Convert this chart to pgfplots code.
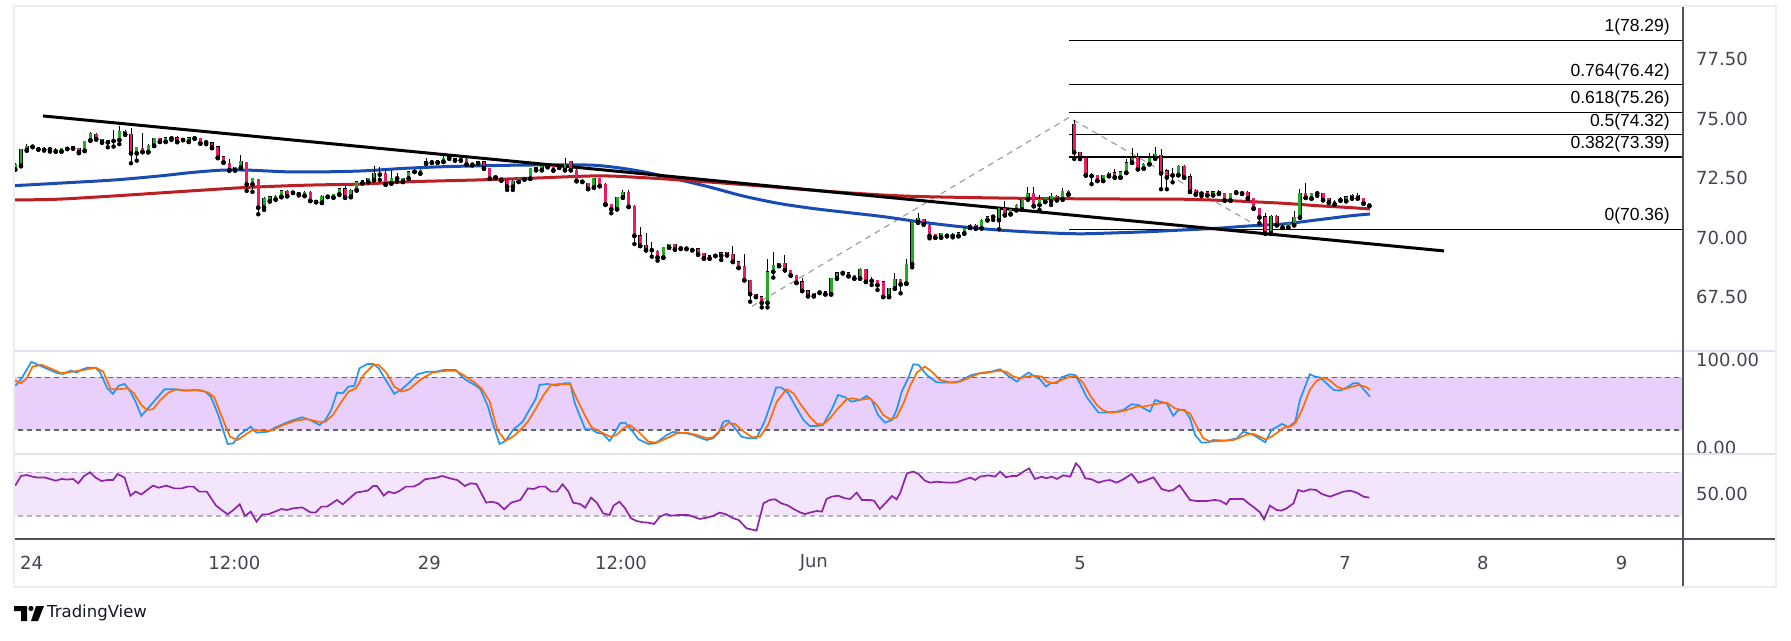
\documentclass[border=0pt]{standalone}
\usepackage{pgfplots}
\pgfplotsset{compat=1.18}
\usepackage{pgfplotstable}
\usepackage{fontspec}
\setmainfont{DejaVu Sans}
\newfontfamily\libsans{Liberation Sans}
\definecolor{cgreen}{RGB}{34,170,34}
\definecolor{cred}{RGB}{236,28,100}
\definecolor{mablue}{RGB}{24,76,178}
\definecolor{mared}{RGB}{189,30,36}
\definecolor{stk}{RGB}{33,150,243}
\definecolor{std}{RGB}{255,109,0}
\definecolor{rsic}{RGB}{142,36,170}
\definecolor{stband}{RGB}{233,207,252}
\definecolor{rsiband}{RGB}{243,230,252}
\definecolor{framec}{RGB}{233,236,242}
\definecolor{sepc}{RGB}{224,227,235}
\definecolor{axc}{RGB}{80,83,94}
\definecolor{txt}{RGB}{67,70,81}
\definecolor{stdash}{RGB}{100,100,110}
\definecolor{rsidash}{RGB}{178,181,190}
\definecolor{fibdash}{RGB}{160,160,160}

\pgfplotstableread{
i o h l c
-1 72.88 73.12 72.86 73.10
0 73.03 73.74 73.00 73.72
1 73.69 73.94 73.65 73.86
2 73.83 73.87 73.80 73.84
3 73.80 73.82 73.70 73.72
4 73.76 73.80 73.66 73.70
5 73.72 73.76 73.62 73.73
6 73.73 73.75 73.62 73.63
7 73.63 73.77 73.62 73.75
8 73.74 73.79 73.72 73.76
9 73.76 73.84 73.74 73.82
10 73.76 73.79 73.55 73.60
11 73.66 74.08 73.64 74.07
12 74.10 74.46 74.07 74.39
13 74.35 74.38 74.12 74.15
14 74.14 74.15 73.99 74.01
15 74.01 74.12 73.80 74.11
16 74.07 74.53 73.83 74.11
17 74.11 74.70 73.93 74.49
18 74.49 74.53 74.32 74.35
19 74.36 74.63 73.13 73.55
20 73.55 73.83 73.24 73.80
21 73.76 74.39 73.59 73.61
22 73.61 73.92 73.58 73.89
23 73.87 74.20 73.85 74.18
24 74.18 74.21 74.02 74.04
25 74.04 74.24 74.02 74.21
26 74.18 74.28 74.11 74.19
27 74.21 74.26 74.01 74.04
28 74.11 74.18 74.10 74.12
29 74.04 74.23 74.02 74.21
30 74.18 74.22 74.15 74.19
31 74.18 74.20 73.95 73.97
32 74.01 74.11 73.93 74.01
33 73.99 74.02 73.76 73.79
34 73.82 73.85 73.34 73.37
35 73.41 73.43 73.15 73.17
36 73.13 73.30 72.82 72.84
37 72.84 72.98 72.82 72.96
38 72.95 73.48 72.92 73.23
39 73.17 73.20 71.97 72.25
40 72.25 72.53 71.93 72.50
41 72.46 72.48 70.99 71.27
42 71.27 71.70 71.17 71.66
43 71.55 71.76 71.52 71.73
44 71.62 71.78 71.60 71.76
45 71.73 72.00 71.70 71.98
46 71.97 71.99 71.74 71.76
47 71.90 71.96 71.88 71.92
48 71.84 71.87 71.78 71.85
49 71.77 71.95 71.75 71.93
50 71.93 71.95 71.54 71.56
51 71.51 71.55 71.49 71.52
52 71.48 71.78 71.46 71.76
53 71.73 71.76 71.71 71.74
54 71.70 71.86 71.68 71.83
55 71.83 72.10 71.80 72.07
56 72.07 72.18 71.68 71.70
57 71.73 72.04 71.70 72.01
58 72.01 72.38 71.98 72.35
59 72.30 72.43 72.28 72.40
60 72.35 72.51 72.33 72.49
61 72.43 73.02 72.41 72.71
62 72.66 72.99 72.43 72.68
63 72.71 72.88 72.23 72.25
64 72.29 72.85 72.27 72.50
65 72.50 72.74 72.36 72.51
66 72.36 72.53 72.34 72.50
67 72.50 72.80 72.48 72.77
68 72.78 72.82 72.76 72.79
69 72.71 72.87 72.69 72.85
70 73.23 73.34 73.10 73.13
71 73.17 73.21 73.14 73.18
72 73.17 73.27 73.15 73.24
73 73.20 73.48 73.18 73.34
74 73.37 73.45 73.31 73.38
75 73.34 73.36 73.24 73.26
76 73.26 73.30 73.24 73.27
77 73.31 73.33 73.06 73.09
78 73.06 73.19 73.04 73.17
79 73.13 73.22 73.11 73.20
80 73.19 73.22 72.89 72.92
81 72.92 72.94 72.47 72.49
82 72.54 72.58 72.52 72.55
83 72.54 72.56 72.40 72.42
84 72.43 72.45 72.01 72.15
85 72.15 72.41 72.01 72.39
86 72.36 72.51 72.34 72.49
87 72.46 72.56 72.44 72.54
88 72.49 72.95 72.47 72.93
89 72.95 72.97 72.83 72.85
90 72.85 73.04 72.83 73.02
91 72.98 73.02 72.96 72.99
92 73.00 73.02 72.82 72.84
93 72.95 72.99 72.93 72.96
94 72.85 73.34 72.83 73.10
95 73.22 73.24 72.83 72.85
96 72.85 72.87 72.37 72.39
97 72.36 72.39 72.34 72.37
98 72.29 72.31 72.04 72.06
99 72.12 72.52 72.10 72.50
100 72.50 72.52 72.16 72.18
101 72.26 72.29 71.38 71.41
102 71.41 71.43 71.03 71.21
103 71.21 71.72 71.19 71.70
104 71.70 72.01 71.68 71.93
105 71.93 72.01 71.29 71.31
106 71.34 71.36 69.74 70.09
107 70.09 70.44 69.65 69.67
108 69.70 70.19 69.47 69.49
109 69.49 69.84 69.21 69.50
110 69.45 69.47 69.04 69.18
111 69.18 69.62 69.16 69.60
112 69.60 69.76 69.58 69.74
113 69.74 69.76 69.50 69.52
114 69.56 69.60 69.53 69.57
115 69.55 69.59 69.52 69.56
116 69.55 69.57 69.47 69.49
117 69.55 69.57 69.29 69.31
118 69.35 69.37 69.12 69.14
119 69.25 69.27 69.12 69.14
120 69.25 69.28 69.23 69.26
121 69.25 69.40 69.07 69.38
122 69.39 69.41 69.26 69.28
123 69.31 69.66 68.98 69.00
124 69.00 69.02 68.73 68.75
125 68.82 69.31 68.21 68.23
126 68.23 68.25 67.32 67.64
127 67.64 67.66 67.51 67.53
128 67.53 67.55 67.08 67.28
129 67.28 69.11 67.08 68.58
130 68.58 69.42 68.33 68.86
131 68.93 68.95 68.81 68.83
132 68.93 69.28 68.63 68.65
133 68.65 68.67 68.41 68.43
134 68.44 68.46 68.10 68.12
135 68.16 68.30 67.76 67.78
136 67.78 67.80 67.54 67.56
137 67.56 67.69 67.54 67.67
138 67.71 67.75 67.68 67.72
139 67.74 67.76 67.62 67.64
140 67.64 68.32 67.62 68.30
141 68.30 68.56 68.28 68.54
142 68.53 68.60 68.50 68.54
143 68.54 68.56 68.38 68.40
144 68.44 68.46 68.28 68.30
145 68.30 68.72 68.28 68.68
146 68.68 68.70 68.14 68.16
147 68.20 68.37 68.02 68.21
148 68.23 68.25 67.81 68.02
149 68.16 68.18 67.51 67.53
150 67.53 67.90 67.51 67.88
151 67.88 68.54 67.86 68.26
152 68.26 68.28 67.67 68.05
153 68.09 69.10 68.07 68.90
154 68.90 70.68 68.76 70.65
155 70.65 71.03 70.63 70.82
156 70.78 70.80 70.55 70.57
157 70.54 70.56 69.98 70.08
158 70.16 70.18 70.00 70.02
159 70.02 70.21 70.00 70.19
160 70.09 70.13 70.06 70.10
161 70.09 70.19 70.02 70.10
162 70.08 70.24 70.06 70.22
163 70.19 70.45 70.17 70.43
164 70.43 70.56 70.41 70.54
165 70.54 70.56 70.38 70.40
166 70.41 70.77 70.39 70.75
167 70.75 70.91 70.73 70.89
168 70.89 70.96 70.75 70.90
169 70.75 71.26 70.36 71.24
170 71.24 71.55 70.94 70.96
171 71.00 71.23 70.98 71.21
172 71.17 71.40 71.15 71.38
173 71.20 71.65 71.18 71.63
174 71.62 72.12 71.60 71.87
175 71.87 72.15 71.32 71.34
176 71.38 71.80 71.17 71.63
177 71.52 71.68 71.50 71.66
178 71.55 71.87 71.38 71.76
179 71.76 71.78 71.57 71.59
180 71.62 72.08 71.60 71.97
181 71.97 71.99 71.81 71.83
182 74.77 74.95 73.31 73.59
183 73.59 73.62 73.30 73.34
184 73.34 73.36 72.61 72.63
185 72.62 72.74 72.25 72.60
186 72.63 72.65 72.38 72.40
187 72.40 72.65 72.38 72.63
188 72.60 72.78 72.58 72.71
189 72.74 72.88 72.52 72.54
190 72.54 72.79 72.52 72.77
191 72.74 73.30 72.72 73.16
192 73.16 73.76 73.14 73.37
193 73.38 73.55 72.87 72.89
194 72.92 73.12 72.90 73.10
195 73.10 73.55 73.08 73.37
196 73.34 73.83 73.32 73.51
197 73.48 73.72 72.04 72.71
198 72.82 72.88 72.04 72.54
199 72.64 72.92 72.33 72.63
200 72.64 73.04 72.62 73.02
201 73.02 73.04 72.52 72.54
202 72.57 72.68 71.92 71.94
203 72.01 72.03 71.81 71.83
204 71.87 71.97 71.76 71.86
205 71.94 71.96 71.78 71.80
206 71.80 71.96 71.78 71.94
207 71.97 71.99 71.84 71.86
208 71.87 71.89 71.56 71.58
209 71.58 71.89 71.56 71.87
210 71.91 71.96 71.88 71.92
211 71.87 71.93 71.84 71.88
212 71.93 71.95 71.64 71.66
213 71.66 71.68 71.22 71.24
214 71.24 71.26 70.61 70.86
215 70.89 71.03 70.17 70.19
216 70.19 70.94 70.17 70.92
217 70.92 70.94 70.52 70.54
218 70.54 70.56 70.41 70.43
219 70.44 70.63 70.42 70.61
220 70.54 71.14 70.52 70.86
221 70.86 72.04 70.84 71.87
222 71.87 72.29 71.67 71.69
223 71.66 71.89 71.64 71.87
224 71.87 71.94 71.76 71.88
225 71.87 71.89 71.57 71.59
226 71.66 71.68 71.47 71.49
227 71.55 71.57 71.39 71.41
228 71.58 71.70 71.56 71.59
229 71.55 71.75 71.53 71.73
230 71.66 71.82 71.64 71.80
231 71.80 71.87 71.64 71.66
232 71.66 71.68 71.43 71.45
233 71.45 71.47 71.33 71.35
}\candles

\pgfplotsset{
  panel/.style={scale only axis, width=1668.5pt, xmin=-1.123, xmax=287.2,
    axis line style={draw=none}, major tick length=0pt, xtick=\empty,
    yticklabel pos=right,
    yticklabel style={anchor=west, inner sep=0pt, xshift=13pt,
      font=\fontsize{18}{18}\selectfont, text=txt}},
  candle/.style={only marks, mark=none, forget plot}
}

\begin{document}
\begin{tikzpicture}[x=1pt,y=1pt]
\useasboundingbox (0,0) rectangle (1791,640);
\fill[white] (0,0) rectangle (1791,640);

% ---------------- price panel ----------------
\begin{axis}[panel, at={(14.5pt,289pt)}, anchor=south west, height=345pt,
  ymin=65.25, ymax=79.73,
  ytick={67.5,70,72.5,75,77.5},
  yticklabels={67.50,70.00,72.50,75.00,77.50}]
% fib levels
\addplot[black, line width=1.2pt, forget plot] coordinates {(181.1,78.29) (288,78.29)};
\addplot[black, line width=1.2pt, forget plot] coordinates {(181.1,76.42) (288,76.42)};
\addplot[black, line width=1.2pt, forget plot] coordinates {(181.1,75.26) (288,75.26)};
\addplot[black, line width=1.2pt, forget plot] coordinates {(181.1,74.32) (288,74.32)};
\addplot[black, line width=1.2pt, forget plot] coordinates {(181.1,73.39) (288,73.39)};
\addplot[black, line width=1.2pt, forget plot] coordinates {(181.1,70.36) (288,70.36)};
% fib anchor dashed
\addplot[fibdash, line width=1.2pt, dash pattern=on 6pt off 5pt, forget plot]
  coordinates {(126.3,67.12) (181.1,75.05) (214.6,70.36)};
% moving averages
\addplot[mablue, line width=3pt, smooth, forget plot] coordinates {
(-1.1,72.19) (6.3,72.29) (16.2,72.43) (24.1,72.60) (29.4,72.74) (34.7,72.84) (39.4,72.84)
(46.0,72.77) (52.6,72.77) (59.2,72.81) (65.8,72.91) (72.4,72.98) (79.0,73.02) (85.7,73.05)
(92.3,73.06) (99.5,73.04) (106.5,72.82) (112.6,72.50) (118.7,72.15) (124.7,71.76)
(130.8,71.45) (136.9,71.23) (142.9,71.06) (149.0,70.89) (155.0,70.68) (161.1,70.50)
(167.2,70.36) (173.2,70.26) (179.3,70.19) (183.6,70.17) (189.3,70.21) (195.1,70.26)
(200.8,70.33) (206.6,70.40) (212.3,70.50) (218.1,70.58) (223.9,70.75) (229.6,70.92) (233.1,71.00)};
\addplot[mared, line width=3pt, smooth, forget plot] coordinates {
(-1.1,71.59) (6.3,71.62) (16.2,71.76) (29.4,71.97) (39.4,72.12) (49.4,72.21) (59.2,72.26)
(66.5,72.35) (79.0,72.43) (89.0,72.51) (99.5,72.60) (106.5,72.54) (115.6,72.40)
(127.7,72.18) (139.9,71.94) (152.0,71.76) (164.1,71.69) (176.3,71.65) (189.3,71.63)
(200.8,71.62) (209.5,71.55) (218.1,71.45) (223.9,71.35) (229.6,71.27) (233.1,71.21)};
% trend line
\addplot[black, line width=3pt, forget plot] coordinates {(3.8,75.115) (245.9,69.45)};
% candles: wicks
\addplot[candle, error bars/.cd, y dir=plus, y explicit, error mark=none,
  error bar style={draw=black, line width=0.9pt}]
  table[x=i, y=l, y error plus expr={\thisrow{h}-\thisrow{l}}] {\candles};
% candle body outlines
\addplot[candle, error bars/.cd, y dir=plus, y explicit, error mark=none,
  error bar style={draw=black, line width=3.5pt}]
  table[x=i, y expr={min(\thisrow{o},\thisrow{c})-0.014},
        y error plus expr={abs(\thisrow{c}-\thisrow{o})+0.028}] {\candles};
% green bodies
\addplot[candle, restrict expr to domain={\thisrow{c}-\thisrow{o}}{0:100},
  error bars/.cd, y dir=plus, y explicit, error mark=none,
  error bar style={draw=cgreen, line width=2.9pt}]
  table[x=i, y=o, y error plus expr={\thisrow{c}-\thisrow{o}}] {\candles};
% red bodies
\addplot[candle, restrict expr to domain={\thisrow{o}-\thisrow{c}}{0.0001:100},
  error bars/.cd, y dir=plus, y explicit, error mark=none,
  error bar style={draw=cred, line width=2.9pt}]
  table[x=i, y=c, y error plus expr={\thisrow{o}-\thisrow{c}}] {\candles};
% fib labels
\begin{scope}[every node/.style={anchor=base east, inner sep=0pt, yshift=8.7pt,
   font=\libsans\fontsize{17.5}{17.5}\selectfont, text=black}]
\node at (axis cs:284.95,78.29) {1(78.29)};
\node at (axis cs:284.95,76.42) {0.764(76.42)};
\node at (axis cs:284.95,75.26) {0.618(75.26)};
\node at (axis cs:284.95,74.32) {0.5(74.32)};
\node at (axis cs:284.95,73.39) {0.382(73.39)};
\node at (axis cs:284.95,70.36) {0(70.36)};
\end{scope}
\end{axis}

% ---------------- stochastic panel ----------------
\begin{axis}[panel, at={(14.5pt,186pt)}, anchor=south west, height=103pt,
  ymin=-7.3, ymax=109.9, ytick={0,100}, yticklabels={0.00,100.00}]
\addplot[fill=stband, draw=none, forget plot] coordinates {(-2,20) (289,20) (289,80) (-2,80)} -- cycle;
\addplot[stdash, line width=1.2pt, dash pattern=on 5pt off 4pt, forget plot] coordinates {(-2,80) (289,80)};
\addplot[stdash, line width=1.2pt, dash pattern=on 5pt off 4pt, forget plot] coordinates {(-2,20) (289,20)};
\addplot[stk, line width=1.7pt, forget plot] coordinates {
(-1.0,70.2)(0.0,77.7)(1.8,97.5)(3.0,94.1)(4.3,90.3)(6.3,84.6)(7.3,83.8)(8.6,87.6)(9.6,85.3)(10.6,89.1)(11.6,91.0)(12.9,91.0)(13.7,85.3)(14.9,67.5)(15.9,61.1)(16.9,70.5)(17.9,72.4)(18.9,63.7)(19.8,52.3)(20.8,36.0)(21.8,43.6)(22.8,51.2)(23.8,58.8)(24.8,66.4)(26.5,66.4)(28.1,64.8)(30.1,65.6)(31.8,63.7)(32.8,58.0)(34.1,37.1)(35.7,4.1)(36.7,4.8)(37.7,14.3)(39.7,23.8)(40.7,17.0)(42.7,18.1)(44.0,23.1)(46.6,30.3)(48.6,34.5)(50.3,30.3)(51.6,25.7)(52.6,31.4)(53.6,42.8)(54.6,62.6)(55.6,61.8)(56.6,69.4)(57.6,70.2)(58.5,90.3)(59.9,95.2)(60.9,95.2)(61.8,90.3)(63.2,75.1)(64.5,61.1)(65.8,66.4)(67.1,74.0)(68.5,83.4)(70.1,86.1)(71.8,86.5)(73.1,88.4)(75.1,88.4)(76.7,77.7)(78.4,71.3)(79.4,66.4)(80.7,46.6)(81.7,23.8)(82.7,4.1)(83.7,7.5)(85.0,20.0)(86.7,29.5)(88.0,44.7)(89.0,56.1)(89.6,71.3)(91.0,72.4)(92.6,70.6)(93.9,73.2)(94.9,73.2)
(95.7,50.4)(97.5,20.8)(98.6,20.8)(99.5,17.0)(100.6,15.5)(101.7,7.5)(102.4,14.3)(103.5,27.6)(104.4,28.4)(105.5,20.0)(106.7,9.4)(108.4,4.1)(109.6,4.8)(110.4,8.6)(111.6,14.3)(112.7,17.8)(113.9,17.0)(115.0,16.2)(116.2,14.3)(117.3,11.3)(118.5,8.6)(119.6,10.6)(120.5,16.2)(121.4,29.5)(122.2,30.7)(123.1,24.6)(124.5,12.4)(125.7,10.6)(127.1,10.6)(128.6,31.4)(130.5,68.3)(131.4,68.3)(132.6,61.8)(133.8,47.4)(135.2,31.4)(136.3,24.6)(137.5,24.6)(138.6,25.7)(140.1,43.6)(141.2,59.9)(142.4,57.2)(143.5,52.3)(145.0,54.2)(146.1,58.8)(147.0,54.2)(148.1,37.1)(149.3,28.4)(150.5,31.4)(151.3,42.8)(152.2,63.7)(153.3,78.9)(154.2,94.8)(155.1,94.1)(156.5,82.7)(158.2,74.3)(160.0,73.9)(161.7,73.9)(163.1,78.9)(164.3,82.7)(165.7,84.6)
(166.3,85.3)(167.7,86.5)(169.2,89.1)(170.6,81.5)(172.1,75.1)(172.9,80.0)(174.1,85.3)(175.2,80.8)(176.1,77.7)(177.1,69.4)(178.1,73.9)(179.0,73.2)(179.8,80.0)(181.3,83.4)(182.1,82.7)(183.0,73.2)(184.1,58.0)(185.3,47.4)(186.2,39.8)(187.6,39.8)(189.3,40.9)(190.5,42.8)(191.9,49.3)(193.1,48.5)(194.0,44.7)(195.1,40.9)(196.0,54.2)(196.8,52.3)(198.0,50.4)(199.1,36.0)(200.0,42.8)(201.1,42.8)(202.0,33.3)(202.9,14.3)(204.0,5.6)(205.2,6.0)(206.0,8.6)(208.3,7.9)(210.1,10.6)(211.2,18.1)(213.0,14.3)(214.1,9.8)(215.0,6.0)(216.1,20.0)(217.9,26.9)(219.0,23.1)(220.2,29.5)(221.0,54.2)(221.9,69.4)(222.7,83.4)(223.6,80.8)(224.5,79.7)(225.6,73.2)(226.8,65.6)(227.9,64.8)(229.1,68.3)(230.2,73.2)(231.1,73.2)(232.0,66.4)(233.1,58.0)};
\addplot[std, line width=1.7pt, forget plot] coordinates {
(-1.0,76.2)(0.0,73.2)(1.0,78.9)(2.0,92.2)(3.6,94.1)(5.0,90.3)(7.0,84.6)(9.0,86.5)(10.9,88.4)(12.9,91.0)(14.2,86.5)(15.5,66.4)(16.9,66.4)(18.5,67.5)(19.5,61.8)(20.8,48.5)(21.8,42.8)(22.8,43.6)(24.1,54.2)(25.5,62.6)(26.8,66.4)(28.8,64.8)(30.8,65.6)(32.4,62.6)(33.4,57.2)(34.7,35.2)(36.1,12.4)(37.4,8.6)(38.7,14.3)(40.0,20.0)(42.0,19.3)(43.3,19.3)(45.3,25.7)(47.3,30.3)(49.3,32.6)(51.3,29.5)(52.6,29.5)(53.9,37.1)(55.2,50.4)(56.6,63.7)(57.9,67.5)(59.2,82.7)(60.9,94.1)(61.8,94.1)(63.2,84.6)(64.5,69.4)(65.8,63.7)(67.1,66.4)(69.1,77.7)(71.1,85.3)(73.1,87.2)(75.1,87.6)(76.4,82.7)(78.4,74.0)(79.7,66.4)(81.0,52.3)(82.3,20.0)(83.7,7.9)(85.0,12.4)(86.3,20.0)(87.6,29.5)(89.0,44.7)(90.3,59.9)(91.6,71.3)(93.0,72.4)(94.9,72.4)
(96.0,56.1)(97.5,36.0)(98.6,23.1)(100.1,18.1)(101.8,12.4)(102.9,14.3)(104.1,21.9)(105.2,25.7)(106.7,18.1)(108.4,6.7)(109.8,5.6)(111.6,10.6)(113.3,16.2)(115.0,17.0)(116.8,14.3)(118.5,10.6)(119.6,11.7)(120.8,20.0)(122.2,27.6)(123.4,26.9)(124.5,20.0)(126.3,11.7)(127.7,12.4)(129.1,25.7)(130.6,52.3)(132.3,66.4)(133.5,61.8)(134.6,50.4)(136.3,35.2)(137.5,26.9)(138.6,26.5)(139.8,33.3)(141.2,44.7)(142.7,55.0)(143.8,56.1)(145.0,54.2)(146.7,56.1)(147.9,48.5)(149.0,37.1)(150.2,32.2)(151.3,34.5)(152.5,50.4)(153.6,69.4)(154.8,85.3)(156.2,92.2)(157.4,86.5)(158.8,77.0)(160.5,74.3)(162.3,75.1)(164.0,80.0)(165.7,84.6)
(166.3,84.6)(167.7,86.1)(169.2,87.6)(170.3,86.1)(171.5,80.8)(172.6,78.9)(173.8,80.8)(175.0,81.9)(176.4,80.8)(177.2,75.1)(178.4,73.2)(179.5,76.2)(181.3,80.8)(182.4,81.5)(183.6,73.2)(184.7,59.9)(185.9,48.5)(187.0,42.1)(188.2,39.8)(189.9,40.9)(191.1,42.8)(192.8,46.6)(194.0,46.6)(195.4,48.5)(196.8,50.4)(198.0,51.2)(199.4,44.7)(200.9,42.1)(202.0,39.0)(203.2,23.8)(204.3,10.6)(205.5,6.8)(207.2,7.5)(209.5,8.6)(210.6,11.3)(211.8,15.1)(213.0,15.5)(214.1,12.4)(215.0,9.4)(216.1,12.4)(217.3,18.1)(218.4,23.1)(219.6,24.6)(220.4,29.5)(221.6,46.6)(222.7,65.6)(223.9,76.2)(225.1,79.7)(226.2,76.2)(227.4,69.4)(228.5,66.4)(229.7,68.6)(231.1,71.3)(232.3,69.4)(233.1,65.6)};
\end{axis}

% ---------------- RSI panel ----------------
\begin{axis}[panel, at={(14.5pt,101pt)}, anchor=south west, height=85pt,
  ymin=8.95, ymax=86.75, ytick={50}, yticklabels={50.00},
  xtick={1.83,36.86,70.55,103.68,137.0,183.0,228.8,252.6,276.6},
  xticklabels={24,12:00,29,12:00,Jun,5,7,8,9},
  xticklabel style={anchor=center, inner sep=0pt, yshift=-24pt,
     font=\fontsize{18}{18}\selectfont, text=txt}]
\addplot[fill=rsiband, draw=none, forget plot] coordinates {(-2,30) (289,30) (289,70) (-2,70)} -- cycle;
\addplot[rsidash, line width=1.2pt, dash pattern=on 5pt off 4pt, forget plot] coordinates {(-2,70) (289,70)};
\addplot[rsidash, line width=1.2pt, dash pattern=on 5pt off 4pt, forget plot] coordinates {(-2,30) (289,30)};
\addplot[rsic, line width=1.7pt, forget plot] coordinates {
(-1.0,57.8)(0.0,66.6)(1.0,67.5)(2.0,66.0)(3.0,65.1)(4.0,65.4)(6.0,62.3)(7.0,63.9)(8.0,63.3)(9.0,63.9)(9.9,59.9)(10.9,66.6)(11.9,70.0)(12.9,65.1)(13.9,62.0)(14.9,62.9)(15.9,62.9)(16.7,68.4)(17.9,65.1)(18.9,48.6)(19.8,52.3)(20.8,49.8)(22.8,57.8)(23.8,55.9)(25.1,57.8)(26.5,55.3)(27.8,55.3)(28.8,56.9)(29.8,56.9)(30.8,52.3)(32.1,52.3)(33.7,39.5)(35.7,31.5)(36.7,35.5)(37.8,40.7)(38.7,30.0)(39.7,34.0)(40.7,24.8)(41.7,31.5)(42.7,31.5)(45.0,36.4)(46.0,35.5)(47.0,37.0)(48.6,37.9)(50.0,33.4)(50.9,33.1)(51.9,38.6)(52.9,38.6)(54.6,44.7)(55.6,40.7)(57.9,51.4)(59.9,53.2)(60.9,57.5)(61.5,57.5)(62.7,48.6)(63.5,52.3)(64.5,50.8)(65.5,53.2)(66.5,56.9)(67.8,56.9)(68.8,59.3)(69.8,63.6)(71.8,65.1)(72.8,66.6)(74.1,64.5)(75.4,62.9)(76.7,57.5)(77.7,59.9)(78.7,59.3)(80.4,42.2)(81.4,43.1)(82.4,41.6)(83.5,36.1)(84.7,42.2)(86.3,44.7)(87.6,55.3)(88.6,54.7)(89.6,56.9)(90.6,56.9)(91.6,52.3)(92.6,52.3)(93.6,59.0)(94.6,52.3)
(95.4,42.2)(96.6,41.0)(97.5,37.6)(98.5,46.8)(99.5,42.2)(100.6,32.4)(101.7,30.9)(102.4,39.5)(103.4,43.1)(104.4,37.0)(105.4,27.9)(106.4,25.4)(107.5,24.2)(108.4,23.9)(109.4,22.7)(110.4,29.4)(111.5,31.8)(112.4,30.3)(113.6,30.9)(115.3,30.9)(117.3,27.3)(118.5,28.5)(119.6,30.0)(120.7,33.1)(121.7,31.8)(123.1,27.9)(124.0,26.4)(125.4,18.7)(127.1,16.6)(128.3,41.6)(129.4,44.7)(130.3,45.3)(131.4,41.6)(132.6,39.5)(133.5,36.4)(134.6,33.4)(135.5,31.8)(136.3,33.1)(137.5,34.6)(138.4,34.0)(139.2,45.6)(140.1,47.7)(141.2,48.6)(142.4,46.2)(143.3,45.6)(144.4,51.4)(145.3,44.7)(146.7,44.7)(147.4,44.0)(148.4,36.4)(149.6,43.1)(150.5,48.3)(151.3,45.3)(151.9,50.8)(153.1,69.1)(154.2,70.6)(155.1,68.4)(156.2,62.3)(157.1,60.5)(158.2,61.4)(159.4,60.8)(160.5,60.5)(161.7,60.8)(162.8,63.0)(164.0,65.1)(164.9,63.0)(165.7,66.0)
(167.2,67.2)(168.3,66.0)(169.2,70.6)(170.2,65.4)(171.2,66.6)(172.1,66.6)(173.5,71.5)(174.2,73.6)(175.2,63.9)(176.4,66.0)(177.2,64.5)(178.1,66.0)(179.0,63.9)(180.1,67.2)(181.3,66.0)(182.3,78.2)(183.0,74.2)(183.9,64.5)(185.0,63.6)(186.2,60.5)(187.3,62.3)(188.2,62.9)(189.3,60.5)(190.5,63.6)(191.9,68.4)(193.1,60.5)(194.2,62.3)(195.7,65.4)(197.1,54.7)(198.3,52.9)(199.1,53.8)(200.2,58.1)(201.1,51.4)(202.0,44.7)(203.2,43.7)(204.9,43.7)(206.3,44.7)(207.2,44.0)(208.3,40.7)(208.9,45.6)(211.2,45.6)(212.1,41.6)(212.9,38.6)(214.1,33.4)(214.8,26.9)(215.8,39.5)(217.0,35.5)(217.8,34.9)(218.7,37.0)(219.9,41.6)(220.7,53.8)(221.6,52.3)(222.7,54.4)(223.8,53.8)(224.8,50.1)(226.2,47.7)(227.4,50.1)(228.5,52.3)(229.7,53.2)(230.8,51.4)(232.0,47.7)(233.0,46.8)};
\end{axis}

% ---------------- frame ----------------
\draw[sepc, line width=1.5pt] (14,289) -- (1776,289);
\draw[sepc, line width=1.5pt] (14,186) -- (1776,186);
\draw[axc, line width=1.5pt] (14,101) -- (1776,101);
\draw[axc, line width=1.5pt] (1683,53) -- (1683,634);
\draw[framec, line width=2pt] (14,53) rectangle (1776,634);

% ---------------- logo ----------------
\fill[black] (14,34) -- (27,34) -- (27,19) -- (21,19) -- (21,29) -- (14,29) -- cycle;
\fill[black] (31,31.5) circle (2.6);
\fill[black] (36,34) -- (44,34) -- (38,19) -- (31,19) -- cycle;
\node[anchor=west, inner sep=0pt, font=\fontsize{16.5}{16.5}\selectfont, text={rgb,255:red,19;green,23;blue,34}] at (47,27) {TradingView};
\end{tikzpicture}
\end{document}
